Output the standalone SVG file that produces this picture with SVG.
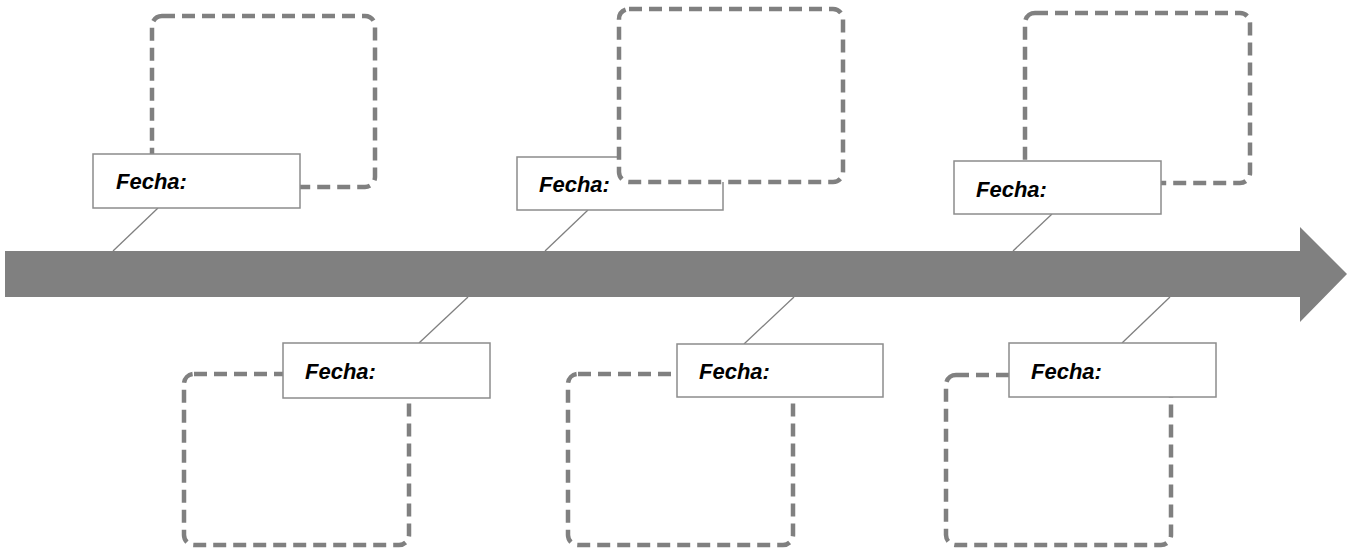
<svg xmlns="http://www.w3.org/2000/svg" width="1353" height="550" viewBox="0 0 1353 550">
  <style>
    .note { fill: #ffffff; stroke: #808080; stroke-width: 4.5; stroke-dasharray: 13 7; }
    .tag { fill: #ffffff; stroke: #8c8c8c; stroke-width: 1.5; }
    .tag-text { font-family: "Liberation Sans", Arial, sans-serif; font-weight: bold; font-style: italic; font-size: 22px; fill: #000000; }
    .link { stroke: #808080; stroke-width: 1.3; fill: none; }
  </style>
  <rect width="1353" height="550" fill="#ffffff"/>

  <!-- timeline arrow -->
  <g id="timeline">
    <polygon points="5,251 1300,251 1300,227 1347,274 1300,322 1300,297 5,297" fill="#808080"/>
  </g>

  <!-- ties from date labels to the timeline -->
  <g id="connectors">
    <line class="link" x1="158" y1="208" x2="113" y2="251"/>
    <line class="link" x1="588" y1="210" x2="545" y2="251"/>
    <line class="link" x1="1052" y1="214" x2="1013" y2="251"/>
    <line class="link" x1="468" y1="297" x2="419" y2="343"/>
    <line class="link" x1="794" y1="297" x2="744" y2="344"/>
    <line class="link" x1="1170" y1="297" x2="1122" y2="343"/>
  </g>

  <!-- upper events -->
  <g id="event-1">
    <rect class="note" x="152" y="16" width="223" height="171" rx="10"/>
    <rect class="tag" x="93" y="154" width="207" height="54"/>
    <text class="tag-text" x="116" y="189">Fecha:</text>
  </g>

  <g id="event-2">
    <rect class="tag" x="517" y="157" width="206" height="53"/>
    <rect class="note" x="619" y="9" width="224" height="173" rx="10"/>
    <text class="tag-text" x="539" y="192">Fecha:</text>
  </g>

  <g id="event-3">
    <rect class="note" x="1025" y="13" width="225" height="170" rx="10"/>
    <rect class="tag" x="954" y="161" width="207" height="53"/>
    <text class="tag-text" x="976" y="197">Fecha:</text>
  </g>

  <!-- lower events -->
  <g id="event-4">
    <rect class="note" x="184" y="374" width="225" height="171" rx="10"/>
    <rect class="tag" x="283" y="343" width="207" height="55"/>
    <text class="tag-text" x="305" y="379">Fecha:</text>
  </g>

  <g id="event-5">
    <rect class="note" x="568" y="374" width="225" height="171" rx="10"/>
    <rect class="tag" x="677" y="344" width="206" height="53"/>
    <text class="tag-text" x="699" y="379">Fecha:</text>
  </g>

  <g id="event-6">
    <rect class="note" x="946" y="375" width="225" height="170" rx="10"/>
    <rect class="tag" x="1009" y="343" width="207" height="54"/>
    <text class="tag-text" x="1031" y="379">Fecha:</text>
  </g>
</svg>
